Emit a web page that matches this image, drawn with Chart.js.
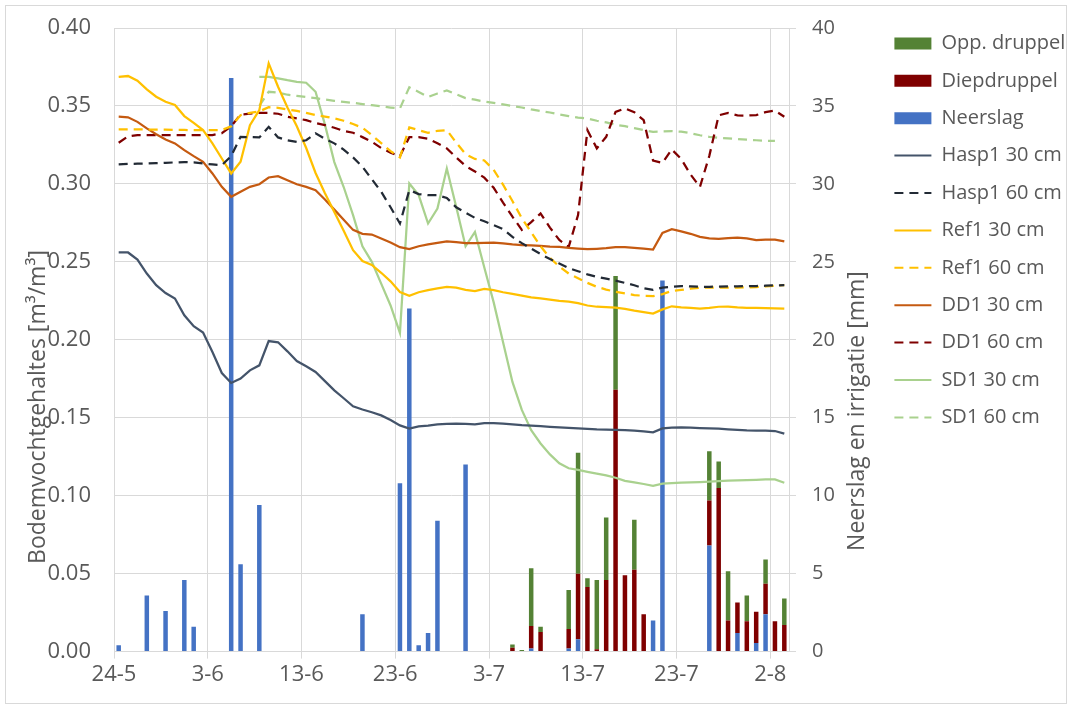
<!DOCTYPE html>
<html>
<head>
<meta charset="utf-8">
<script src="https://cdn.jsdelivr.net/npm/chart.js@4.4.1/dist/chart.umd.min.js"></script>
<style>
  html, body { margin: 0; padding: 0; background: #fff; }
</style>
</head>
<body>
<canvas id="grafiek" width="1072" height="709"></canvas>
<script>
// dag 0 = 24-5, laatste meetdag = 3-8 (72 dagen)
const tickLabels = ['24-5', '3-6', '13-6', '23-6', '3-7', '13-7', '23-7', '2-8'];

// neerslag en irrigatie [mm], per dag
const neerslag = [
  0.4, null, null, 3.6, null, 2.6, null, 4.6, 1.6, null,
  null, null, 36.8, 5.6, null, 9.4, null, null, null, null,
  null, null, null, null, null, null, 2.4, null, null, null,
  10.8, 22.0, 0.4, 1.2, 8.4, null, null, 12.0, null, null,
  null, null, null, null, 0.2, null, null, null, 0.2, 0.8,
  null, null, null, null, null, null, null, 2.0, 23.8, null,
  null, null, null, 6.8, null, null, 1.2, null, 0.55, 2.4,
  null, null
];
const diepdruppel = [
  null, null, null, null, null, null, null, null, null, null,
  null, null, null, null, null, null, null, null, null, null,
  null, null, null, null, null, null, null, null, null, null,
  null, null, null, null, null, null, null, null, null, null,
  null, null, 0.25, null, 1.45, 1.25, null, null, 1.25, 4.2,
  4.15, 0.15, 4.6, 16.8, 4.9, 5.25, 2.4, null, null, null,
  null, null, null, 2.9, 10.5, 2.0, 1.95, 1.95, 2.0, 1.95,
  1.95, 1.7
];
const oppDruppel = [
  null, null, null, null, null, null, null, null, null, null,
  null, null, null, null, null, null, null, null, null, null,
  null, null, null, null, null, null, null, null, null, null,
  null, null, null, null, null, null, null, null, null, null,
  null, null, 0.2, 0.1, 3.7, 0.35, null, null, 2.5, 7.75,
  0.55, 4.45, 4.0, 7.3, null, 3.2, null, null, null, null,
  null, null, null, 3.15, 1.7, 3.15, null, 1.65, null, 1.55,
  null, 1.7
];

// bodemvochtgehalte [m3/m3], per dag
const hasp1_30 = [
  0.256, 0.256, 0.2515, 0.2425, 0.235, 0.230, 0.2265, 0.2157, 0.2087, 0.2046,
  0.1922, 0.1787, 0.1723, 0.1751, 0.1804, 0.1836, 0.1992, 0.1984, 0.1926, 0.1864,
  0.1830, 0.1794, 0.1735, 0.1676, 0.1625, 0.1573, 0.1553, 0.1535, 0.1515, 0.1485,
  0.1451, 0.1430, 0.1445, 0.1450, 0.1457, 0.1460, 0.1462, 0.1460, 0.1458, 0.1466,
  0.1466, 0.1462, 0.1458, 0.1453, 0.1450, 0.1446, 0.1442, 0.1438, 0.1435, 0.1432,
  0.1428, 0.1425, 0.1424, 0.1422, 0.1420, 0.1418, 0.1412, 0.1406, 0.1432, 0.1436,
  0.1438, 0.1436, 0.1434, 0.1432, 0.1430, 0.1426, 0.1422, 0.1419, 0.1418, 0.1417,
  0.1415, 0.1398
];
const hasp1_60 = [
  0.3125, 0.3128, 0.3130, 0.3131, 0.3133, 0.3135, 0.3138, 0.3140, 0.3138, 0.3131,
  0.3125, 0.3120, 0.3178, 0.3302, 0.3300, 0.3298, 0.3366, 0.3298, 0.3280, 0.3270,
  0.3280, 0.3324, 0.3290, 0.3260, 0.3220, 0.3170, 0.3110, 0.3030, 0.2950, 0.2850,
  0.2746, 0.2960, 0.2935, 0.2928, 0.2928, 0.2910, 0.2850, 0.2815, 0.2782, 0.2760,
  0.2735, 0.2710, 0.2660, 0.2620, 0.2585, 0.2550, 0.2518, 0.2490, 0.2460, 0.2440,
  0.2420, 0.2403, 0.2392, 0.2380, 0.2365, 0.2350, 0.2330, 0.2320, 0.2335, 0.2340,
  0.2345, 0.2342, 0.2340, 0.2340, 0.2341, 0.2342, 0.2343, 0.2344, 0.2345, 0.2347,
  0.2349, 0.2350
];
const ref1_30 = [
  0.3687, 0.3692, 0.3662, 0.3606, 0.3559, 0.3527, 0.3506, 0.3435, 0.3392, 0.3345,
  0.3260, 0.3163, 0.3067, 0.3142, 0.3377, 0.3473, 0.3773, 0.3623, 0.3490, 0.3370,
  0.3230, 0.3070, 0.2940, 0.2820, 0.2700, 0.2575, 0.2505, 0.2480, 0.2430, 0.2375,
  0.2307, 0.2282, 0.2305, 0.2318, 0.2330, 0.2339, 0.2335, 0.2320, 0.2313, 0.2326,
  0.2318, 0.2305, 0.2295, 0.2283, 0.2272, 0.2265, 0.2258, 0.2250, 0.2245, 0.2235,
  0.2220, 0.2212, 0.2210, 0.2207, 0.2198, 0.2187, 0.2178, 0.2168, 0.2195, 0.2215,
  0.2208, 0.2204, 0.2200, 0.2205, 0.2212, 0.2213, 0.2208, 0.2205, 0.2204, 0.2203,
  0.2202, 0.2200
];
const ref1_60 = [
  0.3350, 0.3350, 0.3350, 0.3349, 0.3348, 0.3348, 0.3347, 0.3346, 0.3345, 0.3345,
  0.3345, 0.3345, 0.3370, 0.3441, 0.3455, 0.3465, 0.3492, 0.3488, 0.3478, 0.3468,
  0.3455, 0.3441, 0.3432, 0.3420, 0.3405, 0.3384, 0.3360, 0.3313, 0.3262, 0.3210,
  0.3170, 0.3362, 0.3345, 0.3328, 0.3340, 0.3345, 0.3265, 0.3191, 0.3160, 0.3150,
  0.3090, 0.2995, 0.2890, 0.2780, 0.2690, 0.2600, 0.2525, 0.2470, 0.2425, 0.2395,
  0.2365, 0.2340, 0.2322, 0.2308, 0.2297, 0.2287, 0.2282, 0.2280, 0.2293, 0.2313,
  0.2320, 0.2328, 0.2333, 0.2335, 0.2335, 0.2335, 0.2335, 0.2336, 0.2338, 0.2342,
  0.2347, 0.2350
];
const dd1_30 = [
  0.3431, 0.3427, 0.3398, 0.3356, 0.3319, 0.3285, 0.3260, 0.3217, 0.3178, 0.3142,
  0.3067, 0.2981, 0.2917, 0.2949, 0.2981, 0.2998, 0.3041, 0.3050, 0.3024, 0.2998,
  0.2981, 0.2960, 0.2900, 0.2835, 0.2770, 0.2705, 0.2680, 0.2675, 0.2650, 0.2624,
  0.2594, 0.2582, 0.2600, 0.2612, 0.2622, 0.2632, 0.2626, 0.2620, 0.2620, 0.2622,
  0.2624, 0.2618, 0.2612, 0.2608, 0.2605, 0.2602, 0.2598, 0.2596, 0.2590, 0.2585,
  0.2581, 0.2584, 0.2588, 0.2594, 0.2594, 0.2590, 0.2585, 0.2579, 0.2686, 0.2709,
  0.2696, 0.2680, 0.2660, 0.2650, 0.2648, 0.2652, 0.2656, 0.2650, 0.2640, 0.2642,
  0.2643, 0.2632
];
const dd1_60 = [
  0.3264, 0.3305, 0.3313, 0.3313, 0.3313, 0.3313, 0.3313, 0.3313, 0.3313, 0.3313,
  0.3313, 0.3325, 0.3370, 0.3445, 0.3450, 0.3456, 0.3456, 0.3450, 0.3431, 0.3420,
  0.3409, 0.3390, 0.3377, 0.3360, 0.3340, 0.3328, 0.3300, 0.3270, 0.3230, 0.3200,
  0.3178, 0.3300, 0.3300, 0.3290, 0.3260, 0.3228, 0.3170, 0.3115, 0.3080, 0.3040,
  0.2975, 0.2880, 0.2790, 0.2705, 0.2755, 0.2810, 0.2720, 0.2640, 0.2596, 0.2800,
  0.3345, 0.3228, 0.3302, 0.3462, 0.3484, 0.3460, 0.3409, 0.3150, 0.3135, 0.3221,
  0.3160, 0.3060, 0.2981, 0.3180, 0.3440, 0.3455, 0.3440, 0.3438, 0.3441, 0.3460,
  0.3470, 0.3431
];
const sd1_30 = [
  null, null, null, null, null, null, null, null, null, null,
  null, null, null, null, null, 0.3687, 0.3687, 0.3677, 0.3665, 0.3655,
  0.3649, 0.3591, 0.3380, 0.3140, 0.2980, 0.2800, 0.2600, 0.2500, 0.2360, 0.2220,
  0.2044, 0.3003, 0.2928, 0.2746, 0.2842, 0.3099, 0.2853, 0.2600, 0.2692, 0.2464,
  0.2240, 0.1985, 0.1730, 0.1550, 0.1420, 0.1335, 0.1265, 0.1208, 0.1176, 0.1165,
  0.1153, 0.1142, 0.1130, 0.1115, 0.1095, 0.1085, 0.1075, 0.1063, 0.1077, 0.1080,
  0.1084, 0.1085, 0.1087, 0.1090, 0.1093, 0.1097, 0.1098, 0.1100, 0.1102, 0.1104,
  0.1104, 0.1083
];
const sd1_60 = [
  null, null, null, null, null, null, null, null, null, null,
  null, null, null, null, null, 0.3500, 0.3591, 0.3585, 0.3572, 0.3565,
  0.3558, 0.3550, 0.3542, 0.3533, 0.3526, 0.3520, 0.3512, 0.3505, 0.3497, 0.3490,
  0.3484, 0.3620, 0.3590, 0.3558, 0.3580, 0.3600, 0.3575, 0.3550, 0.3540, 0.3528,
  0.3520, 0.3510, 0.3500, 0.3490, 0.3478, 0.3468, 0.3458, 0.3445, 0.3435, 0.3425,
  0.3420, 0.3405, 0.3395, 0.3380, 0.3370, 0.3358, 0.3345, 0.3334, 0.3336, 0.3338,
  0.3335, 0.3325, 0.3312, 0.3302, 0.3296, 0.3292, 0.3288, 0.3284, 0.3280, 0.3277,
  0.3276, null
];

const grijs = '#595959';
const raster = '#d9d9d9';
Chart.defaults.font.family = "'Open Sans', sans-serif";
Chart.defaults.font.size = 20;
Chart.defaults.color = grijs;

// meting midden op de dag
const punten = (reeks) => reeks.map((v, i) => ({ x: i + 0.5, y: v }));

function staaf(label, reeks, kleur) {
  return {
    type: 'bar', label, data: punten(reeks), yAxisID: 'y1', stack: 'water',
    backgroundColor: kleur, borderWidth: 0, barPercentage: 0.48, categoryPercentage: 1, order: 1
  };
}
function lijn(label, reeks, kleur, streep) {
  return {
    type: 'line', label, data: punten(reeks), yAxisID: 'y',
    borderColor: kleur, backgroundColor: kleur, borderWidth: 2.25,
    borderDash: streep ? [9, 6] : [], pointRadius: 0, tension: 0, order: 0
  };
}

const datasets = [
  staaf('Neerslag', neerslag, '#4472C4'),
  staaf('Diepdruppel', diepdruppel, '#7F0000'),
  staaf('Opp. druppel', oppDruppel, '#548235'),
  lijn('Hasp1 30 cm', hasp1_30, '#44546A', false),
  lijn('Hasp1 60 cm', hasp1_60, '#222A35', true),
  lijn('Ref1 30 cm', ref1_30, '#FFC000', false),
  lijn('Ref1 60 cm', ref1_60, '#FFC000', true),
  lijn('DD1 30 cm', dd1_30, '#C55A11', false),
  lijn('DD1 60 cm', dd1_60, '#7F0000', true),
  lijn('SD1 30 cm', sd1_30, '#A9D18E', false),
  lijn('SD1 60 cm', sd1_60, '#A9D18E', true)
];
// legendavolgorde: staven van boven naar beneden, daarna de lijnen
const legendaRang = (i) => (i < 3 ? 2 - i : i);

// kader rond de grafiek en de asstitels (beide van onder naar boven gelezen)
const kaderEnTitels = {
  id: 'kaderEnTitels',
  beforeDraw(chart) {
    const ctx = chart.ctx;
    ctx.save();
    ctx.fillStyle = '#fff';
    ctx.fillRect(0, 0, chart.width, chart.height);
    ctx.strokeStyle = raster;
    ctx.lineWidth = 1;
    ctx.strokeRect(5.5, 5.5, chart.width - 11, chart.height - 11);
    ctx.restore();
  },
  afterDraw(chart) {
    const ctx = chart.ctx;
    const titels = [
      { tekst: 'Bodemvochtgehaltes [m³/m³]', x: 38, y: 407 },
      { tekst: 'Neerslag en irrigatie [mm]', x: 857, y: 411 }
    ];
    ctx.save();
    ctx.fillStyle = grijs;
    ctx.font = "23px 'Open Sans', sans-serif";
    ctx.textAlign = 'center';
    ctx.textBaseline = 'middle';
    titels.forEach((t) => {
      ctx.save();
      ctx.translate(t.x, t.y);
      ctx.rotate(-Math.PI / 2);
      ctx.fillText(t.tekst, 0, 0);
      ctx.restore();
    });
    ctx.restore();
  }
};

new Chart(document.getElementById('grafiek'), {
  type: 'line',
  data: { datasets },
  plugins: [kaderEnTitels],
  options: {
    responsive: false,
    animation: false,
    layout: { padding: { top: 16, right: 3, bottom: 18, left: 0 } },
    plugins: {
      tooltip: { enabled: false },
      legend: {
        position: 'right',
        align: 'start',
        maxWidth: 192,
        labels: {
          usePointStyle: true,
          pointStyleWidth: 37,
          boxHeight: 12,
          padding: 17.4,
          color: grijs,
          sort: (a, b) => legendaRang(a.datasetIndex) - legendaRang(b.datasetIndex),
          generateLabels(chart) {
            const items = Chart.defaults.plugins.legend.labels.generateLabels(chart);
            items.forEach((it) => {
              const ds = chart.data.datasets[it.datasetIndex];
              if (ds.type === 'line') {
                it.pointStyle = 'line';
                it.strokeStyle = ds.borderColor;
                it.lineDash = ds.borderDash;
                it.lineWidth = 2;
              } else {
                it.pointStyle = 'rect';
                it.fillStyle = ds.backgroundColor;
                it.lineWidth = 0;
              }
            });
            return items;
          }
        }
      }
    },
    scales: {
      x: {
        type: 'linear',
        min: 0,
        max: 72,
        offset: false,
        stacked: true,
        ticks: {
          stepSize: 10,
          includeBounds: false,
          autoSkip: false,
          maxRotation: 0,
          padding: 3,
          font: { size: 22 },
          callback: (v) => tickLabels[v / 10]
        },
        grid: { color: raster, tickLength: 7, offset: false },
        border: { color: raster }
      },
      y: {
        position: 'left',
        min: 0,
        max: 0.4,
        ticks: { stepSize: 0.05, padding: 23, font: { size: 22 }, callback: (v) => v.toFixed(2) },
        grid: { color: raster, drawTicks: false },
        border: { display: false },
        afterFit: (s) => { s.width = 114; s.paddingTop = 28; s.paddingBottom = 12; }
      },
      y1: {
        position: 'right',
        min: 0,
        max: 40,
        stacked: true,
        ticks: { stepSize: 5, padding: 16 },
        grid: { drawOnChartArea: false, color: raster, tickLength: 7 },
        border: { color: raster },
        afterFit: (s) => { s.width = 88; s.paddingTop = 28; s.paddingBottom = 12; }
      }
    }
  }
});
</script>
</body>
</html>
